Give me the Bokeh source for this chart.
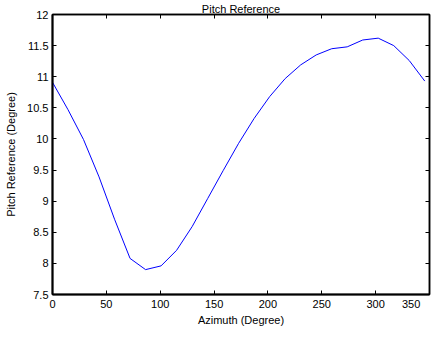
from bokeh.plotting import figure
from bokeh.models import Range1d, LinearAxis, FixedTicker
from bokeh.embed import file_html
from bokeh.resources import INLINE

# Data
azimuth = [0, 14.4, 28.8, 43.2, 57.6, 72, 86.4, 100.8, 115.2, 129.6, 144, 158.4,
           172.8, 187.2, 201.6, 216, 230.4, 244.8, 259.2, 273.6, 288, 302.4,
           316.8, 331.2, 345.6]
pitch = [10.91, 10.47, 9.99, 9.39, 8.71, 8.08, 7.90, 7.96, 8.21, 8.59, 9.04, 9.49,
         9.93, 10.33, 10.68, 10.97, 11.19, 11.35, 11.45, 11.48, 11.59, 11.62,
         11.50, 11.26, 10.93]

x_ticks = [0, 50, 100, 150, 200, 250, 300, 350]
x_tick_labels = ["0", "50", "100", "150", "200", "250", "300", "350"]
y_ticks = [7.5, 8, 8.5, 9, 9.5, 10, 10.5, 11, 11.5, 12]
y_tick_labels = ["7.5", "8", "8.5", "9", "9.5", "10", "10.5", "11", "11.5", "12"]

FONT = "Liberation Sans"
FS = "11px"

p = figure(width=432, height=328, output_backend="svg", toolbar_location=None,
           x_range=Range1d(0, 350), y_range=Range1d(7.5, 12),
           min_border_left=52, min_border_right=3, min_border_top=13,
           min_border_bottom=28, title="Pitch Reference")

p.background_fill_color = "white"
p.border_fill_color = "white"
p.outline_line_color = "black"
p.outline_line_width = 1.5
p.xgrid.visible = False
p.ygrid.visible = False

p.title.text_font = FONT
p.title.text_font_size = FS
p.title.text_font_style = "normal"
p.title.text_color = "black"
p.title.align = "center"
p.title.standoff = 0
p.title.offset = 0

p.line(azimuth, pitch, line_color="#0000ff", line_width=1)

def style_axis(ax, ticks, labels, show_labels=True):
    ax.ticker = FixedTicker(ticks=ticks)
    ax.major_label_overrides = {t: l for t, l in zip(ticks, labels)}
    ax.minor_tick_line_color = None
    ax.major_tick_in = 4
    ax.major_tick_out = 0
    ax.major_tick_line_color = "black"
    ax.major_tick_line_width = 1
    ax.axis_line_color = "black"
    ax.axis_line_width = 2
    ax.major_label_text_font = FONT
    ax.major_label_text_font_size = FS
    ax.major_label_text_color = "black"
    ax.axis_label_text_font = FONT
    ax.axis_label_text_font_size = FS
    ax.axis_label_text_font_style = "normal"
    ax.axis_label_text_color = "black"
    if not show_labels:
        ax.major_label_text_font_size = "0px"
        ax.major_label_standoff = 0
        ax.axis_line_width = 1.5

xa = p.xaxis[0]
style_axis(xa, x_ticks, x_tick_labels)
# keep the last tick label inside the canvas: pad it on the right with
# non-breaking spaces so the centred text shifts left a few pixels
xa.major_label_overrides = {**xa.major_label_overrides,
                            x_ticks[-1]: x_tick_labels[-1] + "\u00a0" * 4}
xa.axis_label = "Azimuth (Degree)"
xa.major_label_standoff = 3
xa.axis_label_standoff = 1

ya = p.yaxis[0]
style_axis(ya, y_ticks, y_tick_labels)
ya.axis_label = "Pitch Reference (Degree)"
ya.major_label_standoff = 4
ya.axis_label_standoff = 7

top = LinearAxis()
style_axis(top, x_ticks, x_tick_labels, show_labels=False)
p.add_layout(top, "above")

right = LinearAxis()
style_axis(right, y_ticks, y_tick_labels, show_labels=False)
p.add_layout(right, "right")

open("out.html", "w").write(file_html(p, INLINE))
